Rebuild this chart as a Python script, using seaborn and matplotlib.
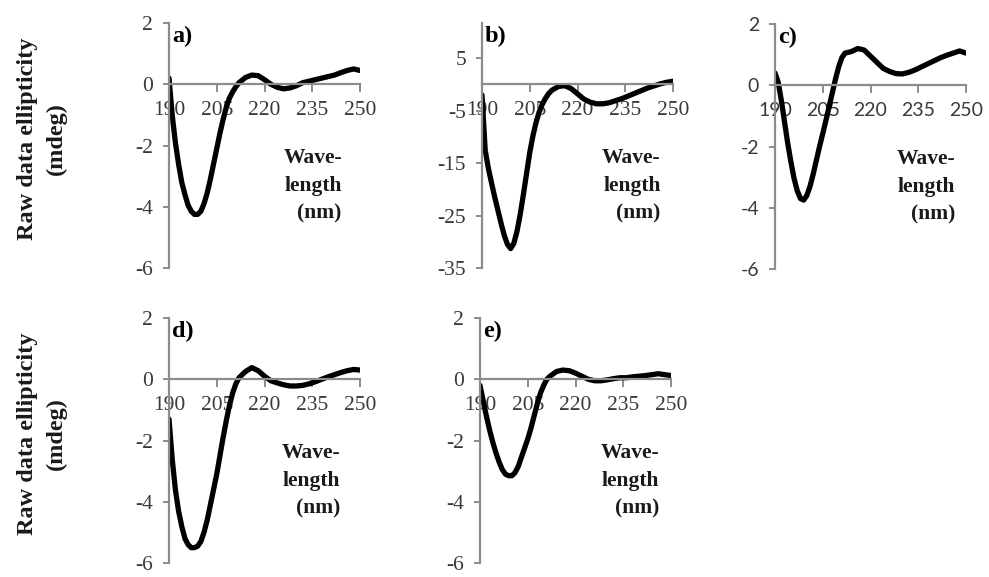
import matplotlib
matplotlib.use("Agg")
import matplotlib.pyplot as plt
import seaborn as sns

# wavelength grid (nm) shared by all panels
wavelength = list(range(190, 213)) + list(range(214, 251, 2))

# raw data ellipticity (mdeg)
ell_a = [0.2, -1.0, -1.9, -2.6, -3.2, -3.6, -3.95, -4.15, -4.25, -4.25, -4.15, -3.9,
         -3.55, -3.1, -2.6, -2.1, -1.6, -1.15, -0.75, -0.45, -0.25, -0.08, 0.05,
         0.22, 0.3, 0.28, 0.15, 0.0, -0.1, -0.15, -0.12, -0.05, 0.05, 0.1, 0.15,
         0.2, 0.25, 0.3, 0.38, 0.45, 0.5, 0.45]
ell_b = [-2.0, -12.5, -16.0, -18.8, -21.5, -24.0, -26.5, -28.8, -30.5, -31.3, -30.3,
         -28.0, -24.8, -21.0, -17.0, -13.0, -9.8, -7.2, -5.2, -3.7, -2.6, -1.7, -1.1,
         -0.4, -0.25, -0.8, -1.8, -2.8, -3.4, -3.7, -3.7, -3.5, -3.1, -2.7, -2.2,
         -1.7, -1.2, -0.7, -0.3, 0.1, 0.4, 0.6]
ell_c = [0.4, 0.1, -0.5, -1.2, -1.9, -2.5, -3.05, -3.45, -3.7, -3.75, -3.6, -3.3,
         -2.9, -2.45, -2.0, -1.58, -1.15, -0.7, -0.25, 0.2, 0.6, 0.9, 1.05,
         1.1, 1.2, 1.15, 0.95, 0.75, 0.55, 0.45, 0.38, 0.37, 0.42, 0.5, 0.6,
         0.7, 0.8, 0.9, 0.98, 1.05, 1.12, 1.05]
ell_d = [-1.3, -2.6, -3.6, -4.3, -4.8, -5.2, -5.4, -5.5, -5.5, -5.45, -5.3, -5.0,
         -4.6, -4.1, -3.6, -3.1, -2.5, -1.9, -1.35, -0.85, -0.45, -0.15, 0.05,
         0.25, 0.38, 0.28, 0.1, -0.05, -0.12, -0.18, -0.22, -0.22, -0.2, -0.15,
         -0.08, 0.0, 0.08, 0.15, 0.22, 0.28, 0.32, 0.3]
ell_e = [-0.2, -0.7, -1.2, -1.65, -2.05, -2.4, -2.7, -2.95, -3.1, -3.15, -3.15, -3.05,
         -2.85, -2.55, -2.25, -1.95, -1.6, -1.2, -0.8, -0.45, -0.2, 0.0, 0.1,
         0.25, 0.3, 0.28, 0.2, 0.1, 0.0, -0.05, -0.05, -0.02, 0.02, 0.05, 0.05,
         0.08, 0.1, 0.12, 0.15, 0.18, 0.15, 0.12]

panel_names = ["a)", "b)", "c)", "d)", "e)"]
series = [ell_a, ell_b, ell_c, ell_d, ell_e]
x_ticks = [190, 205, 220, 235, 250]
y_ticks = [[2, 0, -2, -4, -6], [5, -5, -15, -25, -35], [2, 0, -2, -4, -6],
           [2, 0, -2, -4, -6], [2, 0, -2, -4, -6]]
y_limits = [(-6, 2), (-35, 11.7), (-6, 2), (-6, 2), (-6, 2)]

sns.set_theme(style="white")
plt.rcParams['font.family'] = ['Liberation Serif', 'DejaVu Serif']
plt.rcParams['axes.unicode_minus'] = False

W, H = 989, 577
fig = plt.figure(figsize=(W / 100, H / 100), dpi=100)

# axes boxes in pixels: left, top
boxes = [(169, 23), (482, 23), (775, 24), (169, 318), (480, 318)]
label_x = [0.905, 0.935, 0.945, 0.895, 0.94]
axis_gray = "#8c8c8c"

for i, (name, vals) in enumerate(zip(panel_names, series)):
    left, top = boxes[i]
    ax = fig.add_axes([left / W, 1 - (top + 245) / H, 191 / W, 245 / H])
    sns.lineplot(x=wavelength, y=vals, ax=ax, color="black", linewidth=3.8)
    ax.set_xlim(190, 250)
    ax.set_ylim(*y_limits[i])
    ax.set_xticks(x_ticks)
    ax.set_yticks(y_ticks[i])
    for s in ["top", "right"]:
        ax.spines[s].set_visible(False)
    ax.spines["left"].set_position(("data", 190))
    ax.spines["bottom"].set_position(("data", 0))
    for s in ["left", "bottom"]:
        ax.spines[s].set_color(axis_gray)
        ax.spines[s].set_linewidth(1.6)
    if name == "c)":
        tick_font = dict(family=["Lato", "DejaVu Sans"], size=14)
    else:
        tick_font = dict(family=["Liberation Serif", "DejaVu Serif"], size=15.5)
    ax.tick_params(axis="x", direction="out", length=6, width=1.4, color=axis_gray,
                   pad=6, labelcolor="#3a3a3a", bottom=True)
    ax.tick_params(axis="y", direction="out", length=4.5, width=1.4, color=axis_gray,
                   pad=7, labelcolor="#3a3a3a", left=True)
    for lab in ax.get_xticklabels() + ax.get_yticklabels():
        lab.set_fontfamily(tick_font["family"])
        lab.set_fontsize(tick_font["size"])
    ax.set_xlabel("")
    ax.set_ylabel("")
    ax.patch.set_alpha(0)
    ax.text(0.015, 0.99, name, transform=ax.transAxes, ha="left", va="top",
            fontsize=17.5, fontweight="heavy", color="black")
    ax.text(label_x[i], 0.335, "Wave-\nlength\n(nm)", transform=ax.transAxes,
            ha="right", va="center", multialignment="right", fontsize=15.5,
            fontweight="bold", color="#1a1a1a", linespacing=1.5)

for yc in [139, 434]:
    fig.text(42 / W, 1 - yc / H, "Raw data ellipticity\n(mdeg)", rotation=90,
             ha="center", va="center", multialignment="center", fontsize=17.5,
             fontweight="bold", color="#1a1a1a", linespacing=1.45)

fig.savefig("out.png", dpi=100)
